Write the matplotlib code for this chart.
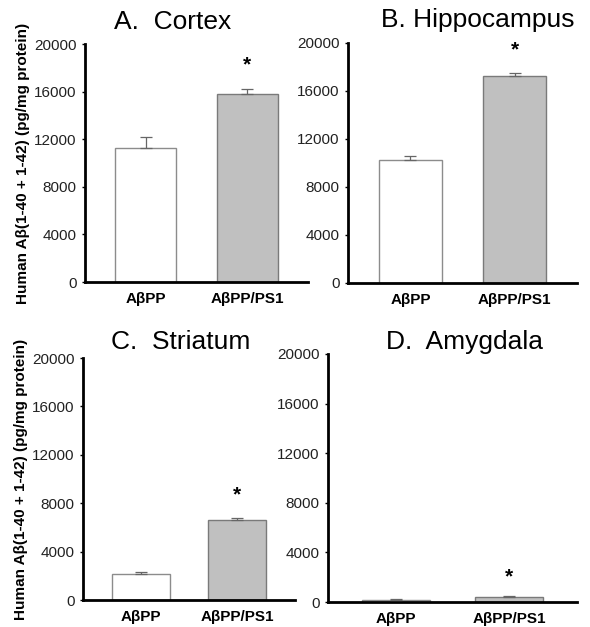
import matplotlib
matplotlib.use("Agg")
import matplotlib.pyplot as plt

plt.rcParams['font.family'] = ['Liberation Sans', 'DejaVu Sans']

groups = ["AβPP", "AβPP/PS1"]
titles = ["A.  Cortex", "B. Hippocampus", "C.  Striatum", "D.  Amygdala"]
means = [
    [11250, 15820],
    [10220, 17280],
    [2160, 6620],
    [200, 420],
]
errors = [
    [950, 420],
    [380, 250],
    [130, 140],
    [30, 40],
]
yticks = [0, 4000, 8000, 12000, 16000, 20000]
ylabel = "Human Aβ(1-40 + 1-42) (pg/mg protein)"

W, H = 590, 627
fig = plt.figure(figsize=(W / 100, H / 100), dpi=100)

# axes boxes in pixels: left, top, right, bottom
boxes = [
    (85, 44, 308, 282),
    (348, 43, 577, 283),
    (83, 358, 295, 600),
    (328, 354, 577, 602),
]
title_pos = [(173, 22), (478, 20), (181, 342), (465, 342)]
star_y = [65, 50, 495, 577]
show_ylabel = [True, False, True, False]

for i in range(4):
    l, t, r, b = boxes[i]
    ax = fig.add_axes([l / W, 1 - b / H, (r - l) / W, (b - t) / H])
    x = [0, 1]
    ax.bar(x, means[i], width=0.6, color=["white", "#c0c0c0"],
           edgecolor=["#8c8c8c", "#7a7a7a"], linewidth=1.0, zorder=2)
    ax.errorbar(x, means[i], yerr=[[0, 0], errors[i]], fmt="none",
                ecolor="#666666", elinewidth=0.9, capsize=4, capthick=0.9, zorder=3)
    ax.set_xlim(-0.6, 1.6)
    ax.set_ylim(0, 20000)
    ax.set_yticks(yticks)
    ax.set_yticklabels([str(v) for v in yticks], fontsize=11, color="#222222")
    ax.set_xticks(x)
    ax.set_xticklabels(groups, fontsize=11, fontweight="bold")
    ax.tick_params(axis="y", length=2, width=1, pad=4)
    ax.tick_params(axis="x", length=0, pad=7)
    for s in ["top", "right"]:
        ax.spines[s].set_visible(False)
    for s in ["left", "bottom"]:
        ax.spines[s].set_linewidth(2)
        ax.spines[s].set_color("black")
    tx, ty = title_pos[i]
    fig.text(tx / W, 1 - ty / H, titles[i], fontsize=19, ha="center", va="center")
    x1_px = l + (1 - (-0.6)) / 2.2 * (r - l)
    fig.text(x1_px / W, 1 - star_y[i] / H, "*", fontsize=15, fontweight="bold",
             ha="center", va="center")
    if show_ylabel[i]:
        ax.set_ylabel(ylabel, fontsize=11, fontweight="bold", labelpad=3)

fig.savefig("out.png", dpi=100)
